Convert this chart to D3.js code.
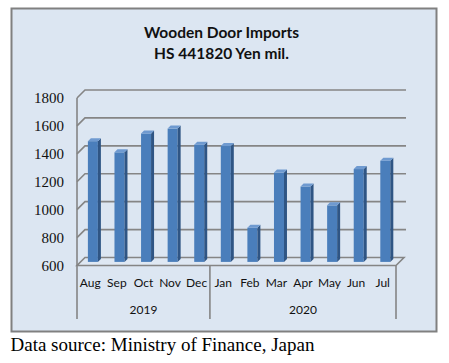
<!DOCTYPE html>
<html>
<head>
<meta charset="utf-8">
<script src="https://cdn.jsdelivr.net/npm/d3@7"></script>
<style>
  html, body { margin: 0; padding: 0; background: #fff; }
  svg { display: block; }
</style>
</head>
<body>
<svg id="chart"></svg>
<script>
(() => {
  const months = ["Aug", "Sep", "Oct", "Nov", "Dec", "Jan", "Feb", "Mar", "Apr", "May", "Jun", "Jul"];
  const years = [
    { label: "2019", from: 0, to: 4 },
    { label: "2020", from: 5, to: 11 }
  ];
  const imports = [1465, 1385, 1520, 1555, 1440, 1430, 845, 1240, 1140, 1005, 1265, 1325];
  const yTicks = [600, 800, 1000, 1200, 1400, 1600, 1800];
  const titleLines = ["Wooden Door Imports", "HS 441820 Yen mil."];
  const source = "Data source: Ministry of Finance, Japan";

  const width = 449, height = 363;
  const svg = d3.select("#chart").attr("width", width).attr("height", height);

  // outer chart box
  svg.append("rect")
    .attr("x", 11.5).attr("y", 8.5)
    .attr("width", 425).attr("height", 323)
    .attr("fill", "#dce6f2")
    .attr("stroke", "#808080")
    .attr("stroke-width", 2);

  svg.append("g")
    .selectAll("text")
    .data(titleLines)
    .join("text")
    .attr("x", 221.5)
    .attr("y", (d, i) => 38 + i * 20.5)
    .attr("text-anchor", "middle")
    .style("font", "bold 15.5px Lato, 'Open Sans', sans-serif")
    .attr("fill", "#111")
    .text(d => d);

  // front plane of the 3D plot, plus depth offset
  const x0 = 77, x1 = 396;
  const depth = { dx: 8, dy: -8 };
  const x = d3.scaleBand().domain(months).range([x0, x1]);
  const y = d3.scaleLinear().domain([600, 1800]).range([265.5, 98]);

  const grid = svg.append("g")
    .attr("fill", "none")
    .attr("stroke", "#858585")
    .attr("stroke-width", 1.6);

  // floor
  const yf = y(600);
  grid.append("path")
    .attr("fill", "#dfe8f3")
    .attr("d", `M${x0},${yf}L${x1},${yf}L${x1 + depth.dx},${yf + depth.dy}L${x0 + depth.dx},${yf + depth.dy}Z`);

  // gridlines on left wall and back wall
  grid.selectAll("path.gl")
    .data(yTicks.slice(1))
    .join("path")
    .attr("class", "gl")
    .attr("d", v => {
      const yy = y(v);
      return `M${x0},${yy}L${x0 + depth.dx},${yy + depth.dy}L${x1 + depth.dx + 2},${yy + depth.dy}`;
    });

  // left wall edge and category separators
  grid.append("line")
    .attr("x1", x0).attr("x2", x0)
    .attr("y1", y(1800)).attr("y2", 319);
  const seps = [x0, x(months[5]), x1];
  grid.selectAll("line.sep")
    .data(seps.slice(1))
    .join("line")
    .attr("class", "sep")
    .attr("x1", d => d).attr("x2", d => d)
    .attr("y1", yf).attr("y2", 319);

  // y tick labels
  svg.append("g")
    .selectAll("text")
    .data(yTicks)
    .join("text")
    .attr("x", 64)
    .attr("y", v => y(v) + 5)
    .attr("text-anchor", "end")
    .style("font", "15px 'Liberation Serif', serif")
    .attr("fill", "#111")
    .text(v => v);

  // 3D bars
  const frac = 0.45;
  const bw = 10, side = 3;
  const bars = svg.append("g")
    .selectAll("g.bar")
    .data(months.map((m, i) => ({ m, v: imports[i] })))
    .join("g")
    .attr("class", "bar");

  const bx = d => x(d.m) + x.bandwidth() / 2 + frac * depth.dx - bw / 2 - 1;
  const by0 = yf + frac * depth.dy;
  const byt = d => y(d.v) + frac * depth.dy;

  bars.append("rect")
    .attr("x", bx)
    .attr("y", byt)
    .attr("width", bw)
    .attr("height", d => by0 - byt(d))
    .attr("fill", "#4a7ebb");
  bars.append("path")
    .attr("fill", "#2f5584")
    .attr("d", d => {
      const l = bx(d) + bw, t = byt(d);
      return `M${l},${t}L${l + side},${t - side}L${l + side},${by0 - side}L${l},${by0}Z`;
    });
  bars.append("path")
    .attr("fill", "#6f9ad0")
    .attr("d", d => {
      const l = bx(d), t = byt(d);
      return `M${l},${t}L${l + side},${t - side}L${l + bw + side},${t - side}L${l + bw},${t}Z`;
    });

  // month labels
  svg.append("g")
    .selectAll("text")
    .data(months)
    .join("text")
    .attr("x", d => x(d) + x.bandwidth() / 2)
    .attr("y", 287)
    .attr("text-anchor", "middle")
    .style("font", "12px Lato, 'Open Sans', sans-serif")
    .attr("fill", "#111")
    .text(d => d);

  // year labels
  svg.append("g")
    .selectAll("text")
    .data(years)
    .join("text")
    .attr("x", d => (x(months[d.from]) + x(months[d.to]) + x.bandwidth()) / 2)
    .attr("y", 314)
    .attr("text-anchor", "middle")
    .style("font", "12px Lato, 'Open Sans', sans-serif")
    .attr("fill", "#111")
    .text(d => d.label);

  svg.append("text")
    .attr("x", 10.5)
    .attr("y", 351)
    .style("font", "19px 'Liberation Serif', serif")
    .attr("fill", "#000")
    .text(source);
})();
</script>
</body>
</html>
